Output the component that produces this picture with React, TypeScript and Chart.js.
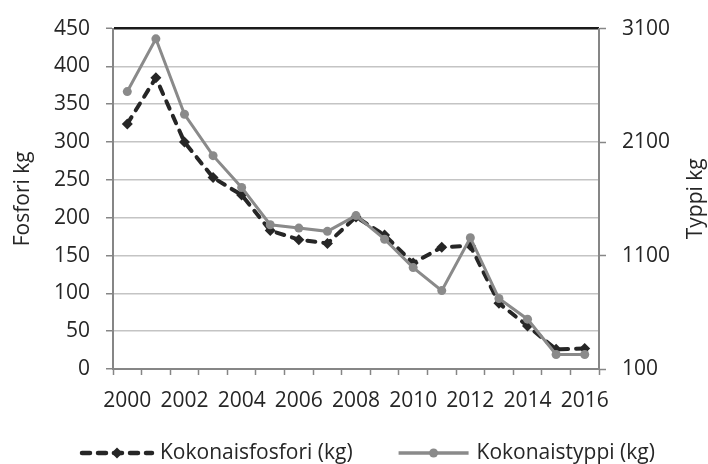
import React, { useEffect, useRef } from 'react';
import { Chart, registerables } from 'chart.js';

Chart.register(...registerables);

const years = ['2000', '2001', '2002', '2003', '2004', '2005', '2006', '2007', '2008', '2009', '2010', '2011', '2012', '2013', '2014', '2015', '2016'];
const fosfori = [324, 385, 300, 253, 230, 183, 171, 166, 201, 177, 140, 161, 163, 87, 57, 26, 27];
const typpi = [2545, 3010, 2345, 1980, 1700, 1371, 1342, 1313, 1452, 1244, 994, 791, 1257, 721, 539, 228, 228];
const seriesNames = ['Kokonaisfosfori (kg)', 'Kokonaistyppi (kg)'];
const axisTitles = ['Fosfori kg', 'Typpi kg'];
const leftAxis = { min: 0, max: 450, step: 50 };
const rightAxis = { min: 100, max: 3100, step: 1000 };

const FONT = '"Open Sans", sans-serif';
const DARK = '#262626';
const GRAY = '#8a8a8a';
const AXIS = '#868686';
const GRID = '#c4c4c4';
const TEXT = '#262626';

const titlesAndLegend = {
  id: 'titlesAndLegend',
  afterDraw(chart: any) {
    const ctx = chart.ctx as CanvasRenderingContext2D;
    const area = chart.chartArea;
    const midY = (area.top + area.bottom) / 2;
    ctx.save();
    ctx.fillStyle = TEXT;
    ctx.font = `21px ${FONT}`;
    ctx.textAlign = 'center';
    ctx.textBaseline = 'middle';
    // left title
    ctx.save();
    ctx.translate(23, midY);
    ctx.rotate(-Math.PI / 2);
    ctx.fillText(axisTitles[0], 0, 0);
    ctx.restore();
    // right title
    ctx.save();
    ctx.translate(chart.width - 12, midY);
    ctx.rotate(-Math.PI / 2);
    ctx.fillText(axisTitles[1], 0, 0);
    ctx.restore();

    // legend
    ctx.font = `21px ${FONT}`;
    ctx.textAlign = 'left';
    const ly = chart.height - 11;
    const sampleW = 70;
    let x = 82;
    chart.data.datasets.forEach((ds: any) => {
      ctx.save();
      ctx.strokeStyle = ds.borderColor;
      ctx.lineWidth = ds.borderWidth + 0.5;
      ctx.lineCap = ds.borderCapStyle || 'butt';
      ctx.setLineDash(ds.borderDash || []);
      ctx.beginPath();
      ctx.moveTo(x, ly);
      ctx.lineTo(x + sampleW, ly);
      ctx.stroke();
      ctx.setLineDash([]);
      ctx.fillStyle = ds.pointBackgroundColor;
      const cx = x + sampleW / 2;
      const r = ds.pointRadius;
      ctx.beginPath();
      if (ds.pointStyle === 'rectRot') {
        ctx.moveTo(cx, ly - r);
        ctx.lineTo(cx + r, ly);
        ctx.lineTo(cx, ly + r);
        ctx.lineTo(cx - r, ly);
        ctx.closePath();
      } else {
        ctx.arc(cx, ly, r, 0, Math.PI * 2);
      }
      ctx.fill();
      ctx.restore();
      ctx.fillStyle = TEXT;
      const label = ds.label as string;
      ctx.fillText(label, x + sampleW + 8, ly);
      x += sampleW + 8 + ctx.measureText(label).width + 46;
    });
    ctx.restore();
  },
};

export default function App() {
  const ref = useRef<HTMLCanvasElement | null>(null);
  useEffect(() => {
    document.body.style.margin = '0';
    const canvas = ref.current;
    if (!canvas) return;
    const chart = new Chart(canvas, {
      type: 'line',
      data: {
        labels: years,
        datasets: [
          {
            label: seriesNames[0],
            data: fosfori,
            yAxisID: 'y',
            order: 1,
            borderColor: DARK,
            backgroundColor: DARK,
            borderWidth: 4,
            borderDash: [8, 8],
            borderCapStyle: 'round',
            pointStyle: 'rectRot',
            pointRadius: 5.5,
            pointBackgroundColor: DARK,
            pointBorderColor: DARK,
            pointBorderWidth: 0,
            tension: 0,
            fill: false,
          } as any,
          {
            label: seriesNames[1],
            data: typpi,
            yAxisID: 'y2',
            order: 0,
            borderColor: GRAY,
            backgroundColor: GRAY,
            borderWidth: 3,
            pointStyle: 'circle',
            pointRadius: 4.5,
            pointBackgroundColor: GRAY,
            pointBorderColor: GRAY,
            pointBorderWidth: 0,
            tension: 0,
            fill: false,
          } as any,
        ],
      },
      options: {
        responsive: false,
        animation: false,
        devicePixelRatio: 1,
        layout: { padding: { top: 24, bottom: 50, left: 0, right: 0 } },
        plugins: {
          legend: { display: false },
          tooltip: { enabled: false },
        },
        scales: {
          x: {
            type: 'category',
            offset: true,
            grid: {
              offset: true,
              display: true,
              drawOnChartArea: false,
              drawTicks: true,
              tickLength: 6,
              tickColor: AXIS,
              tickWidth: 1.5,
            },
            border: { color: AXIS, width: 2 },
            ticks: {
              autoSkip: false,
              maxRotation: 0,
              minRotation: 0,
              padding: 13,
              color: TEXT,
              font: { family: FONT, size: 21 },
              callback: (_v: any, i: number) => (i % 2 === 0 ? years[i] : ''),
            },
            afterFit: (s: any) => {
              s.height = 45;
            },
          },
          y: {
            position: 'left',
            min: leftAxis.min,
            max: leftAxis.max,
            ticks: {
              stepSize: leftAxis.step,
              padding: 16,
              color: TEXT,
              font: { family: FONT, size: 21 },
            },
            grid: {
              color: (c: any) => (c.tick && c.tick.value === leftAxis.max ? '#1a1a1a' : GRID),
              lineWidth: (c: any) => (c.tick && c.tick.value === leftAxis.max ? 2.5 : 1.5),
              tickColor: AXIS,
              tickLength: 7,
              tickWidth: 1.5,
            },
            border: { color: AXIS, width: 2 },
            afterFit: (s: any) => {
              s.width = 113;
            },
          },
          y2: {
            position: 'right',
            min: rightAxis.min,
            max: rightAxis.max,
            ticks: {
              stepSize: rightAxis.step,
              padding: 16,
              color: TEXT,
              font: { family: FONT, size: 21 },
              callback: (v: any) => String(v),
            },
            grid: {
              drawOnChartArea: false,
              tickColor: AXIS,
              tickLength: 7,
              tickWidth: 1.5,
            },
            border: { color: AXIS, width: 2 },
            afterFit: (s: any) => {
              s.width = 109;
            },
          },
        },
      } as any,
      plugins: [titlesAndLegend],
    });
    return () => chart.destroy();
  }, []);
  return (
    <div style={{ width: 708, height: 464, background: '#fff' }}>
      <canvas ref={ref} width={708} height={464} style={{ display: 'block' }} />
    </div>
  );
}
